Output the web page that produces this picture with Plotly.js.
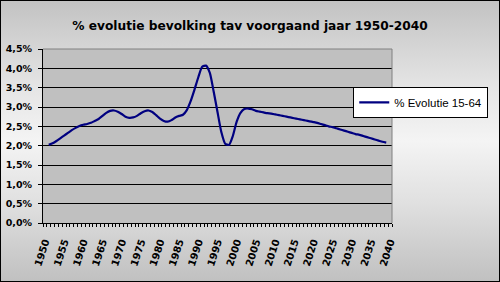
<!DOCTYPE html>
<html>
<head>
<meta charset="utf-8">
<script src="https://cdn.plot.ly/plotly-3.0.1.min.js"></script>
<style>
  html, body { margin: 0; padding: 0; }
  #wrap { position: relative; width: 500px; height: 282px;
    background: linear-gradient(to bottom, #c2c2c2 0%, #e4e4e4 30%, #f4f4f4 50%, #e0e0e0 72%, #c0c0c0 100%); }
  #chart { position: absolute; left: 0; top: 0; width: 500px; height: 282px; }
  #frame { position: absolute; left: 0; top: 0; width: 500px; height: 282px; box-sizing: border-box;
    border: 1px solid #000; pointer-events: none; }
</style>
</head>
<body>
<div id="wrap"><div id="chart"></div><div id="frame"></div></div>
<script>
const years = [];
for (let y = 1951; y <= 2039; y++) years.push(y);

const evolutie1564 = [
  2.02, 2.06, 2.12, 2.19, 2.26, 2.33, 2.40, 2.46, 2.51, 2.54,
  2.56, 2.59, 2.64, 2.69, 2.77, 2.85, 2.90, 2.91, 2.88, 2.82,
  2.75, 2.72, 2.73, 2.77, 2.84, 2.89, 2.91, 2.87, 2.79, 2.70,
  2.64, 2.62, 2.66, 2.73, 2.77, 2.80, 2.92, 3.15, 3.45, 3.77,
  4.04, 4.07, 3.88, 3.40, 2.87, 2.35, 2.05, 2.02, 2.25, 2.62,
  2.85, 2.95, 2.96, 2.94, 2.90, 2.88, 2.86, 2.84, 2.83, 2.81,
  2.79, 2.77, 2.75, 2.73, 2.71, 2.69, 2.67, 2.65, 2.63, 2.61,
  2.59, 2.56, 2.53, 2.50, 2.48, 2.45, 2.42, 2.39, 2.36, 2.33,
  2.30, 2.28, 2.25, 2.22, 2.19, 2.16, 2.13, 2.10, 2.08
];

const tickYears = [];
for (let y = 1950; y <= 2040; y += 5) tickYears.push(y);
const tickLabels = tickYears.map(String);

const yTicks = [0, 0.5, 1, 1.5, 2, 2.5, 3, 3.5, 4, 4.5];
const yTickLabels = ['0,0%', '0,5%', '1,0%', '1,5%', '2,0%', '2,5%', '3,0%', '3,5%', '4,0%', '4,5%'];

const data = [{
  x: years,
  y: evolutie1564,
  type: 'scatter',
  mode: 'lines',
  name: '% Evolutie 15-64',
  line: { color: '#000080', width: 2.2, shape: 'spline', smoothing: 0.6 }
}];

const layout = {
  width: 500, height: 282,
  margin: { l: 43, r: 106, t: 49, b: 59, pad: 0 },
  paper_bgcolor: 'rgba(0,0,0,0)',
  plot_bgcolor: '#c0c0c0',
  showlegend: true,
  title: {
    text: '% evolutie bevolking tav voorgaand jaar 1950-2040',
    font: { family: 'DejaVu Sans', size: 12.2, color: '#000', weight: 'bold' },
    x: 0.5, xanchor: 'center', y: 0.91, yanchor: 'middle'
  },
  xaxis: {
    range: [1949.5, 2040.5],
    tickmode: 'array', tickvals: tickYears, ticktext: tickLabels,
    tickangle: -72,
    ticks: '', ticklen: 0,
    ticklabelstandoff: 8,
    showgrid: false, zeroline: false,
    showline: true, linecolor: '#000', linewidth: 1,
    tickfont: { family: 'DejaVu Sans', size: 10, color: '#000', weight: 'bold' },
    minor: { tick0: 1949.5, dtick: 1, ticks: 'outside', ticklen: 3, tickcolor: '#000', tickwidth: 1, showgrid: false }
  },
  yaxis: {
    range: [0, 4.5],
    tickmode: 'array', tickvals: yTicks, ticktext: yTickLabels,
    ticks: 'outside', ticklen: 4, tickcolor: '#000',
    ticklabelstandoff: 4,
    showgrid: true, gridcolor: '#000', gridwidth: 1,
    zeroline: false,
    showline: true, linecolor: '#000', linewidth: 1,
    tickfont: { family: 'DejaVu Sans', size: 9.5, color: '#000', weight: 'bold' }
  },
  legend: {
    x: 0.889, xanchor: 'left', y: 0.782, yanchor: 'top',
    bgcolor: '#ffffff', bordercolor: '#000', borderwidth: 1,
    font: { family: 'Liberation Sans', size: 11.5, color: '#000' },
    itemwidth: 30
  },
  shapes: [
    { type: 'line', xref: 'paper', yref: 'paper', x0: 0, x1: 1, y0: 1, y1: 1,
      line: { color: '#808080', width: 1 }, layer: 'above' },
    { type: 'line', xref: 'paper', yref: 'paper', x0: 1, x1: 1, y0: 0, y1: 1,
      line: { color: '#808080', width: 1 }, layer: 'above' }
  ]
};

Plotly.newPlot('chart', data, layout, { displayModeBar: false, staticPlot: true });
</script>
</body>
</html>
